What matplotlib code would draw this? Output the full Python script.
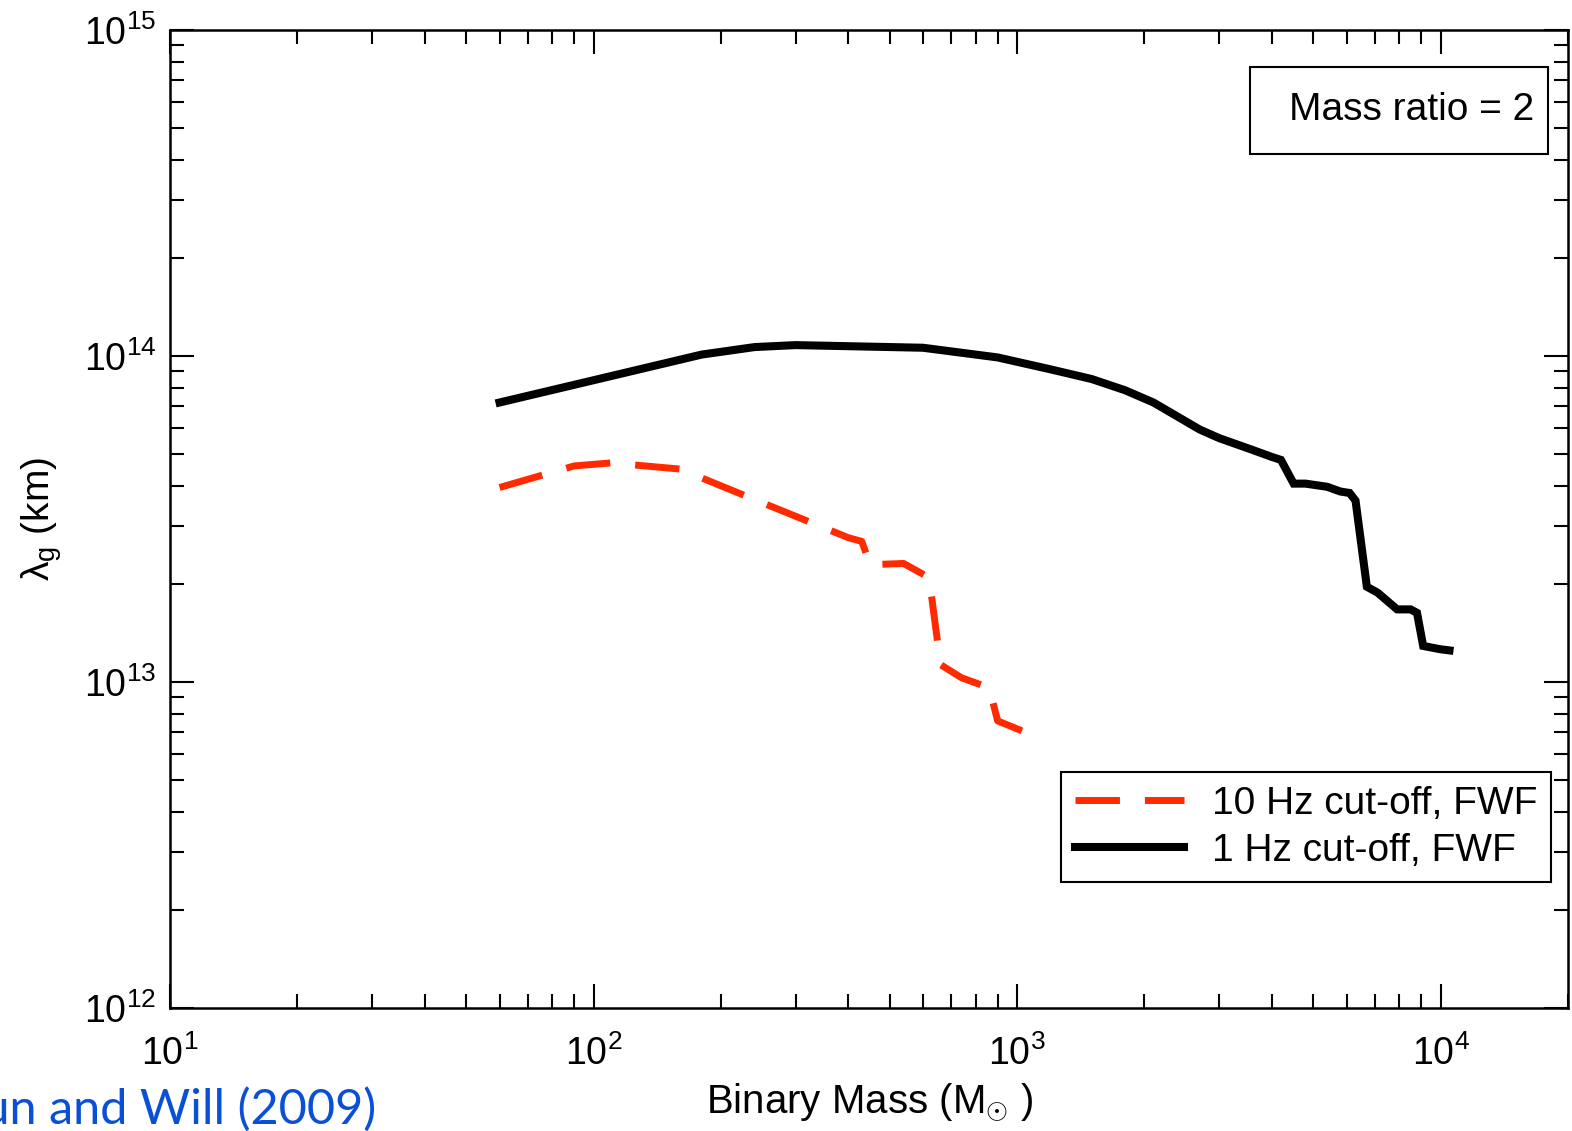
import math
import matplotlib
matplotlib.use("Agg")
import matplotlib.pyplot as plt
from matplotlib.patches import Rectangle
from matplotlib.ticker import LogLocator, FixedLocator, FuncFormatter, NullFormatter

plt.rcParams['font.family'] = ['Liberation Sans', 'DejaVu Sans']
plt.rcParams['mathtext.fontset'] = 'custom'
plt.rcParams['mathtext.rm'] = 'Liberation Sans'
plt.rcParams['mathtext.it'] = 'Liberation Sans:italic'
plt.rcParams['mathtext.bf'] = 'Liberation Sans:bold'

# ---- data ----
mass_10hz = [60, 90, 110, 160, 250, 400, 430, 450, 540, 620, 660, 740, 860, 900, 1050]
lam_10hz = [3.95e13, 4.6e13, 4.7e13, 4.5e13, 3.55e13, 2.77e13, 2.70e13, 2.29e13,
            2.31e13, 2.09e13, 1.13e13, 1.03e13, 9.6e12, 7.6e12, 7.0e12]

mass_1hz = [60, 180, 240, 300, 600, 900, 1200, 1500, 1800, 2100, 2700, 3000, 3600,
            4000, 4200, 4500, 4800, 5400, 5800, 6100, 6300, 6700, 7100, 7900, 8500,
            8800, 9100, 10000, 10500]
lam_1hz = [7.2e13, 1.01e14, 1.065e14, 1.08e14, 1.06e14, 9.9e13, 9.1e13, 8.5e13,
           7.85e13, 7.2e13, 5.95e13, 5.6e13, 5.15e13, 4.9e13, 4.8e13, 4.06e13,
           4.06e13, 3.97e13, 3.84e13, 3.8e13, 3.6e13, 1.96e13, 1.88e13, 1.67e13,
           1.67e13, 1.63e13, 1.29e13, 1.26e13, 1.25e13]

label_10hz = "10 Hz cut-off, FWF"
label_1hz = "1 Hz cut-off, FWF"
xticks = [1e1, 1e2, 1e3, 1e4]
yticks = [1e12, 1e13, 1e14, 1e15]

fig = plt.figure(figsize=(15.72, 11.31), dpi=100)
ax = fig.add_axes([170/1572, (1131-1008)/1131, (1568-170)/1572, (1008-30)/1131])

ax.plot(mass_10hz, lam_10hz, color='#ff2a00', lw=5, ls=(0, (6.4, 3.6)),
        solid_joinstyle='miter', dash_capstyle='butt', label=label_10hz)
ax.plot(mass_1hz, lam_1hz, color='black', lw=5.8, solid_joinstyle='miter',
        label=label_1hz)

ax.set_xscale('log')
ax.set_yscale('log')
ax.set_xlim(10, 2e4)
ax.set_ylim(1e12, 1e15)

def fmt(v, pos):
    e = int(round(math.log10(v)))
    return r'$\mathregular{10^{%d}}$' % e

ax.xaxis.set_major_locator(FixedLocator(xticks))
ax.yaxis.set_major_locator(FixedLocator(yticks))
ax.xaxis.set_major_formatter(FuncFormatter(fmt))
ax.yaxis.set_major_formatter(FuncFormatter(fmt))
ax.xaxis.set_minor_locator(LogLocator(base=10, subs=range(2, 10), numticks=20))
ax.yaxis.set_minor_locator(LogLocator(base=10, subs=range(2, 10), numticks=20))
ax.xaxis.set_minor_formatter(NullFormatter())
ax.yaxis.set_minor_formatter(NullFormatter())

ax.tick_params(which='both', direction='in', top=True, right=True, width=1.5,
               labelsize=27, color='black')
ax.tick_params(which='major', length=17, pad=10)
ax.tick_params(which='minor', length=10)
ax.tick_params(axis='x', which='major', pad=20)
for s in ax.spines.values():
    s.set_linewidth(1.8)

ax.set_xlabel(r'Binary Mass (M$_{\odot}$ )', fontsize=29, labelpad=6)
ax.set_ylabel(r'$\mathregular{\lambda_g}$ (km)', fontsize=28, labelpad=14)

leg = ax.legend(loc='lower right', bbox_to_anchor=(0.9875, 0.1285), fontsize=28,
                frameon=True, fancybox=False, edgecolor='black', framealpha=1,
                handlelength=2.8, handletextpad=0.72, borderpad=0.35,
                labelspacing=0.28, borderaxespad=0)
leg.get_frame().set_linewidth(1.5)

# "Mass ratio" box
bx0, bx1 = (1250-170)/1398, (1548-170)/1398
by0, by1 = (1008-154)/978, (1008-67)/978
ax.add_patch(Rectangle((bx0, by0), bx1-bx0, by1-by0, transform=ax.transAxes,
                       fc='white', ec='black', lw=1.5, zorder=5))
ax.text((1534-170)/1398, (by0+by1)/2, 'Mass ratio = 2', transform=ax.transAxes,
        fontsize=28, ha='right', va='center', zorder=6)

fig.text(376/1572, (1131-1124)/1131, 'Arun and Will (2009)', color='#0a50d6',
         fontsize=35, family=['Lato', 'DejaVu Sans'], ha='right', va='baseline')

fig.savefig('out.png', dpi=100)
